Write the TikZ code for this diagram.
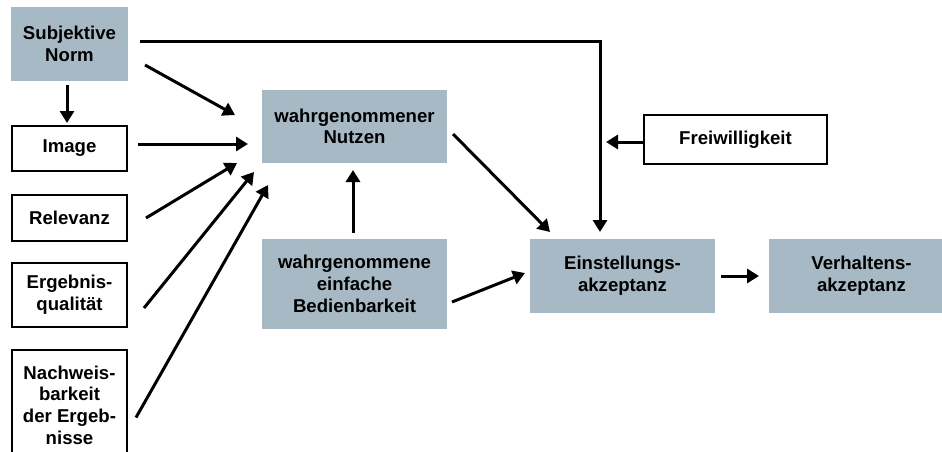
\documentclass[tikz,border=0pt]{standalone}
\usepackage{fontspec}
\setmainfont{Liberation Sans}
\usetikzlibrary{arrows.meta,calc}
\definecolor{boxblue}{RGB}{168,185,198}
\begin{document}
\begin{tikzpicture}[x=1pt,y=-1pt,
  every node/.style={font=\bfseries\fontsize{18.6}{21.7}\selectfont, align=center, inner sep=0pt, outer sep=0pt},
  bluebox/.style={fill=boxblue, draw=none},
  whitebox/.style={fill=white, draw=black, line width=2pt},
  conn/.style={line width=3pt, -{Triangle[length=12pt,width=14pt]}}]
\clip (0,0) rectangle (942,452);
\fill[white] (0,0) rectangle (942,452);
% nodes
\node[bluebox, minimum width=117pt, minimum height=74pt] (sn) at (69.5,44) {Subjektive\\Norm};
\node[whitebox, minimum width=115pt, minimum height=45pt] (img) at (69.5,148.5) {Image};
\node[whitebox, minimum width=115pt, minimum height=46pt] (rel) at (69.5,218) {Relevanz};
\node[whitebox, minimum width=115pt, minimum height=64pt] (erg) at (69.5,295) {Ergebnis-\\qualität};
\node[whitebox, minimum width=115pt, minimum height=110pt] (nach) at (69.5,405) {Nachweis-\\barkeit\\der Ergeb-\\nisse};
\node[bluebox, minimum width=185pt, minimum height=73pt] (nutz) at (354.5,126.5) {wahrgenommener\\Nutzen};
\node[bluebox, minimum width=185pt, minimum height=90pt] (bed) at (354.5,284) {wahrgenommene\\einfache\\Bedienbarkeit};
\node[bluebox, minimum width=185pt, minimum height=74pt] (ein) at (622.5,276) {Einstellungs-\\akzeptanz};
\node[bluebox, minimum width=185pt, minimum height=74pt] (ver) at (861.5,276) {Verhaltens-\\akzeptanz};
\node[whitebox, minimum width=183pt, minimum height=49pt] (frei) at (735.5,139.5) {Freiwilligkeit};
% connectors
\draw[conn] ($(sn.south)+(-2.5,4)$) -- ($(img.north)+(-2.5,-3)$);
\draw[conn] ($(sn.east)+(12,-2)$) -| ($(ein.north)+(-22.5,-7)$);
\draw[conn] ($(frei.west)+(0,2.5)$) -- ($(frei.west)+(-38,2.5)$);
\draw[conn] ($(ein.east)+(6,0)$) -- ($(ver.west)+(-10,0)$);
\draw[conn] ($(nutz.east)+(6,7.5)$) -- ($(ein.north)+(-72.5,-7)$);
\draw[conn] ($(bed.east)+(5,18)$) -- ($(ein.west)+(-5,-3)$);
\draw[conn] ($(bed.north)+(-1.5,-6)$) -- ($(nutz.south)+(-1.5,7)$);
\draw[conn] ($(sn.east)+(17,21)$) -- ($(nutz.west)+(-27,-11.5)$);
\draw[conn] ($(img.east)+(11,-4.5)$) -- ($(nutz.west)+(-14,17.5)$);
\draw[conn] ($(rel.east)+(19,0)$) -- ($(nutz.west)+(-25,36.5)$);
\draw[conn] ($(erg.east)+(17,13)$) -- ($(nutz.west)+(-8,45.5)$);
\draw[conn] ($(nach.east)+(9,12.5)$) -- ($(nutz.west)+(6,58.5)$);
\end{tikzpicture}
\end{document}
